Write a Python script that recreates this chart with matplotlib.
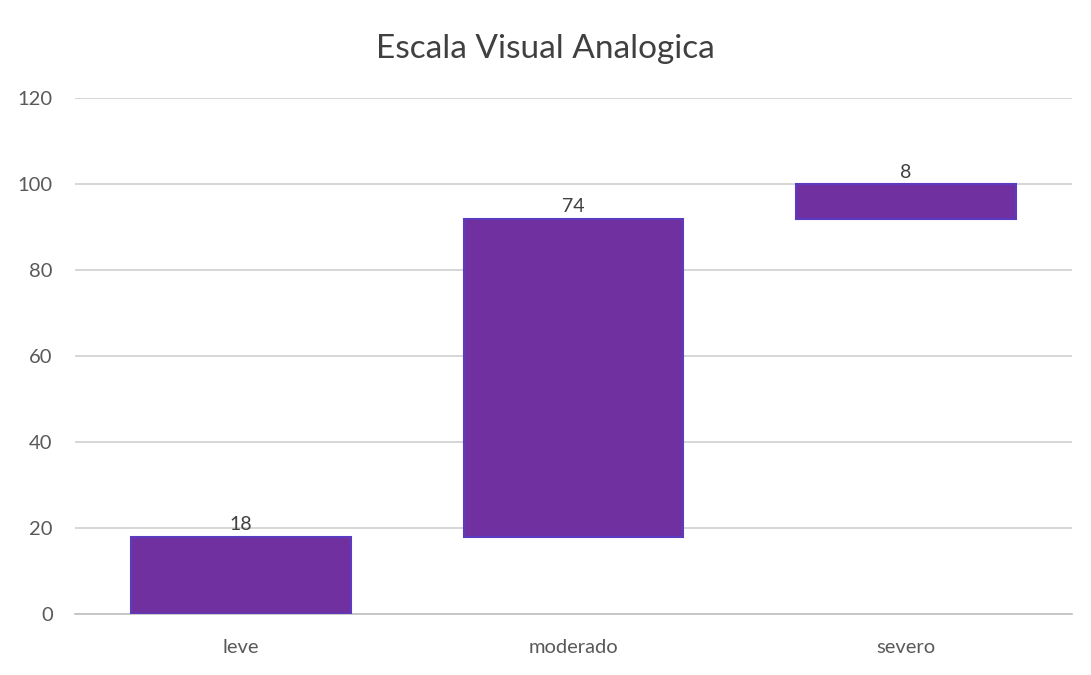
import matplotlib.pyplot as plt
import numpy as np

categories = ["leve", "moderado", "severo"]
values = [18, 74, 8]
y_ticks = [0, 20, 40, 60, 80, 100, 120]

plt.rcParams['font.family'] = ['Lato', 'DejaVu Sans']

fig = plt.figure(figsize=(10.91, 6.75), dpi=100)
ax = fig.add_axes([0.0687, 0.0904, 0.914, 0.764])

# waterfall: each bar starts where the previous ended
tops = np.cumsum(values)
bottoms = tops - np.array(values)
x = np.arange(len(categories))

ax.bar(x, values, bottom=bottoms, width=0.66, color="#7030A0",
       edgecolor="#5B3BBF", linewidth=1.5, zorder=3)

for xi, top, v in zip(x, tops, values):
    ax.text(xi, top + 0.8, str(v), ha="center", va="bottom",
            fontsize=14, color="#404040")

ax.set_xlim(-0.5, len(categories) - 0.5)
ax.set_ylim(0, 120)
ax.set_yticks(y_ticks)
ax.set_xticks(x)
ax.set_xticklabels(categories)
ax.tick_params(axis="both", length=0, labelsize=14.5, colors="#595959")
ax.tick_params(axis="x", pad=18)
ax.tick_params(axis="y", pad=16)

ax.yaxis.grid(True, color="#D0D0D0", linewidth=1.2, zorder=0)
for side in ["top", "right", "left"]:
    ax.spines[side].set_visible(False)
ax.spines["bottom"].set_color("#BFBFBF")
ax.spines["bottom"].set_linewidth(1.2)

fig.text(0.5, 0.928, "Escala Visual Analogica", ha="center", va="center",
         fontsize=24, color="#404040")

fig.savefig("out.png", dpi=100)
